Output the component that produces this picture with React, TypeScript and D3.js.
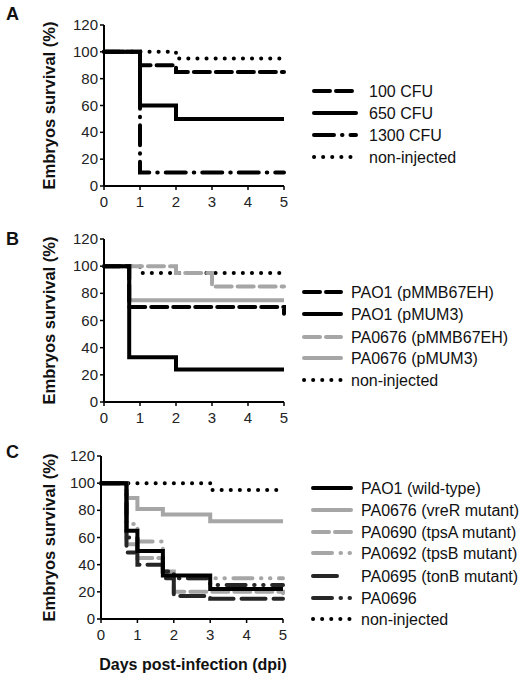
import React from "react";
import * as d3 from "d3";

// ---------- data ----------
const dayTicks = [0, 1, 2, 3, 4, 5];
const survivalTicks = [0, 20, 40, 60, 80, 100, 120];

// Panel A
const a100CFU: [number, number][] = [[0, 100], [1, 90], [2, 85], [5, 85]];
const a650CFU: [number, number][] = [[0, 100], [1, 60], [2, 50], [5, 50]];
const a1300CFU: [number, number][] = [[0, 100], [1, 10], [5, 10]];
const aNonInjected: [number, number][] = [[0, 100], [2, 95], [5, 95]];

// Panel B
const bPAO1pMMB: [number, number][] = [[0, 100], [0.7, 70], [5, 65]];
const bPAO1pMUM3: [number, number][] = [[0, 100], [0.7, 33], [2, 24], [5, 24]];
const bPA0676pMMB: [number, number][] = [[0, 100], [2, 95], [3, 85], [5, 85]];
const bPA0676pMUM3: [number, number][] = [[0, 100], [0.7, 75], [5, 75]];
const bNonInjected: [number, number][] = [[0, 100], [1, 95], [5, 95]];

// Panel C
const cPAO1: [number, number][] = [[0, 100], [0.7, 65], [1, 50], [1.7, 32], [3, 22], [5, 22]];
const cVreR: [number, number][] = [[0, 100], [0.7, 89], [1, 81], [1.7, 77], [3, 72], [5, 72]];
const cTpsA: [number, number][] = [[0, 100], [0.7, 55], [1, 45], [1.7, 35], [2, 20], [5, 19]];
const cTpsB: [number, number][] = [[0, 100], [0.7, 70], [1, 57], [1.7, 35], [2, 30], [5, 30]];
const cTonB: [number, number][] = [[0, 100], [0.7, 49], [1, 40], [1.7, 30], [2, 17], [3, 15], [5, 15]];
const cPA0696: [number, number][] = [[0, 100], [0.7, 60], [1, 50], [1.7, 35], [2, 30], [3, 25], [5, 25]];
const cNonInjected: [number, number][] = [[0, 100], [3, 95], [5, 95]];

// ---------- styles ----------
const BLACK = "#000000";
const GREY = "#a6a6a6";
const DARK = "#262626";
const SOLID = "";
const DASH = "16,6";
const DOT = "0.1,9";
const DASHDOT = "20,8,0.5,8";
const DASHDOTDOT = "19,8.5,0.5,8.5,0.5,8.5";
const LONGDASH = "24,8";

type Series = { name: string; data: [number, number][]; color: string; dash: string; legendLen?: number };

const panelASeries: Series[] = [
  { name: "100 CFU", data: a100CFU, color: BLACK, dash: DASH },
  { name: "650 CFU", data: a650CFU, color: BLACK, dash: SOLID },
  { name: "1300 CFU", data: a1300CFU, color: BLACK, dash: DASHDOT },
  { name: "non-injected", data: aNonInjected, color: BLACK, dash: DOT },
];
const panelBSeries: Series[] = [
  { name: "PAO1 (pMMB67EH)", data: bPAO1pMMB, color: BLACK, dash: DASH },
  { name: "PAO1 (pMUM3)", data: bPAO1pMUM3, color: BLACK, dash: SOLID },
  { name: "PA0676 (pMMB67EH)", data: bPA0676pMMB, color: GREY, dash: DASH },
  { name: "PA0676 (pMUM3)", data: bPA0676pMUM3, color: GREY, dash: SOLID },
  { name: "non-injected", data: bNonInjected, color: BLACK, dash: DOT },
];
const panelCSeries: Series[] = [
  { name: "PAO1 (wild-type)", data: cPAO1, color: BLACK, dash: SOLID },
  { name: "PA0676 (vreR mutant)", data: cVreR, color: GREY, dash: SOLID },
  { name: "PA0690 (tpsA mutant)", data: cTpsA, color: GREY, dash: DASH },
  { name: "PA0692 (tpsB mutant)", data: cTpsB, color: GREY, dash: DASHDOTDOT },
  { name: "PA0695 (tonB mutant)", data: cTonB, color: DARK, dash: LONGDASH, legendLen: 32 },
  { name: "PA0696", data: cPA0696, color: DARK, dash: DASHDOTDOT },
  { name: "non-injected", data: cNonInjected, color: BLACK, dash: DOT },
];

const FONT = "'Liberation Sans', Arial, Helvetica, sans-serif";

type PanelProps = {
  letter: string;
  letterY: number;
  top: number;
  bottom: number;
  left: number;
  right: number;
  series: Series[];
  legendX1: number;
  legendX2: number;
  legendTextX: number;
  legendRows: number[];
  drawOrder: number[];
};

function Panel(p: PanelProps) {
  const x = d3.scaleLinear().domain([0, 5]).range([p.left, p.right]);
  const y = d3.scaleLinear().domain([0, 120]).range([p.bottom, p.top]);
  const line = d3
    .line<[number, number]>()
    .x((d) => x(d[0]))
    .y((d) => y(d[1]))
    .curve(d3.curveStepAfter);
  const midY = (p.top + p.bottom) / 2;
  return (
    <g fontFamily={FONT}>
      <text x={6} y={p.letterY} fontSize={18} fontWeight="bold" fill="#111">
        {p.letter}
      </text>
      <text
        transform={`translate(55,${midY}) rotate(-90)`}
        textAnchor="middle"
        fontSize={16.5}
        fontWeight="bold"
        fill="#111"
      >
        Embryos survival (%)
      </text>
      {survivalTicks.map((t) => (
        <g key={"y" + t}>
          <line x1={p.left - 4} x2={p.left} y1={y(t)} y2={y(t)} stroke="#000" strokeWidth={1.5} />
          <text x={p.left - 6} y={y(t) + 5} textAnchor="end" fontSize={15} fill="#222">
            {t}
          </text>
        </g>
      ))}
      {dayTicks.map((t) => (
        <g key={"x" + t}>
          <line x1={x(t)} x2={x(t)} y1={p.bottom} y2={p.bottom + 4} stroke="#000" strokeWidth={1.5} />
          <text x={x(t)} y={p.bottom + 21} textAnchor="middle" fontSize={15} fill="#222">
            {t}
          </text>
        </g>
      ))}
      {p.drawOrder.map((i) => {
        const s = p.series[i];
        return (
          <path
            key={"s" + i}
            d={line(s.data) || ""}
            fill="none"
            stroke={s.color}
            strokeWidth={4}
            strokeDasharray={s.dash || undefined}
            strokeLinecap={s.dash ? "round" : "butt"}
            strokeLinejoin="miter"
          />
        );
      })}
      <line x1={p.left} x2={p.left} y1={p.top} y2={p.bottom} stroke="#000" strokeWidth={2} />
      <line x1={p.left} x2={p.right} y1={p.bottom} y2={p.bottom} stroke="#000" strokeWidth={2} />
      {p.series.map((s, i) => (
        <g key={"l" + i}>
          <line
            x1={p.legendX1 + 2}
            x2={(s.legendLen ? p.legendX1 + s.legendLen : p.legendX2) - 2}
            y1={p.legendRows[i]}
            y2={p.legendRows[i]}
            stroke={s.color}
            strokeWidth={4}
            strokeDasharray={s.dash || undefined}
            strokeLinecap="round"
          />
          <text x={p.legendTextX} y={p.legendRows[i] + 6} fontSize={16} fill="#111">
            {s.name}
          </text>
        </g>
      ))}
    </g>
  );
}

export default function App() {
  return (
    <svg
      width={531}
      height={678}
      style={{ position: "absolute", left: 0, top: 0, background: "#fff" }}
    >
      <rect width={531} height={678} fill="#fff" />
      <Panel
        letter="A"
        letterY={20}
        top={25}
        bottom={186}
        left={104}
        right={284}
        series={panelASeries}
        legendX1={312}
        legendX2={358}
        legendTextX={369}
        legendRows={[91, 113, 135, 157]}
        drawOrder={[3, 0, 2, 1]}
      />
      <Panel
        letter="B"
        letterY={245}
        top={239}
        bottom={402}
        left={104}
        right={284}
        series={panelBSeries}
        legendX1={302}
        legendX2={343}
        legendTextX={351}
        legendRows={[292, 314, 337, 358, 380]}
        drawOrder={[4, 2, 3, 0, 1]}
      />
      <Panel
        letter="C"
        letterY={458}
        top={456}
        bottom={619}
        left={101}
        right={283}
        series={panelCSeries}
        legendX1={311}
        legendX2={353}
        legendTextX={361}
        legendRows={[488, 510, 532, 553, 576, 598, 619]}
        drawOrder={[6, 1, 3, 2, 5, 4, 0]}
      />
      <text
        x={193}
        y={670}
        textAnchor="middle"
        fontFamily={FONT}
        fontSize={16}
        fontWeight="bold"
        fill="#111"
      >
        Days post-infection (dpi)
      </text>
    </svg>
  );
}
